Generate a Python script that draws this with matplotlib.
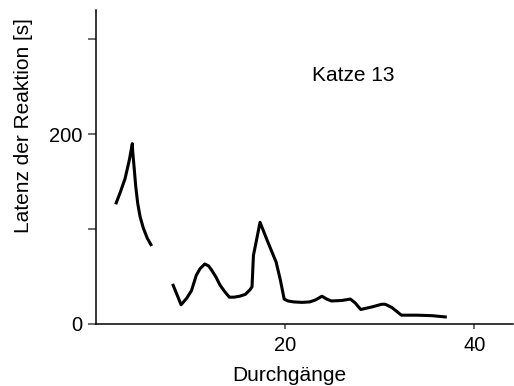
import matplotlib
matplotlib.use("Agg")
import matplotlib.pyplot as plt

plt.rcParams['font.family'] = ['Liberation Sans', 'DejaVu Sans']

# Durchgänge / Latenz, two separate drawn segments
trials_a = [2.08, 2.54, 3.07, 3.53, 3.84, 3.87, 4.02, 4.2, 4.41, 4.66, 5.0, 5.43, 5.89]
latency_a = [126, 138, 153, 173, 190, 183, 166, 145, 127, 113, 101, 90, 82]

trials_b = [8.1, 9.0, 9.6, 10.1, 10.6, 11.0, 11.5, 11.9, 12.2, 12.7, 13.1, 13.6, 14.1,
            14.6, 15.2, 15.8, 16.3, 16.5, 16.65, 17.35, 18.1, 19.05, 19.5, 19.9,
            20.3, 20.9, 21.8, 22.6, 23.2, 23.9, 24.4, 24.9, 26.0, 26.9, 27.4,
            28.0, 29.3, 30.2, 30.6, 31.3, 32.3, 33.9, 35.5, 37.1]
latency_b = [42, 20, 27, 35, 51, 58, 63, 61, 57, 49, 41, 34, 28,
             28, 29, 31, 36, 39, 72, 107, 88, 65, 46, 26,
             24, 23, 22.5, 23, 25, 29, 26, 24, 24.5, 26, 22,
             15, 18, 20.5, 20.5, 17, 9, 9, 8.5, 7]

yticks = [0, 100, 200, 300]
ytick_labels = ['0', '', '200', '']
xticks = [20, 40]

fig = plt.figure(figsize=(5.14, 3.86), dpi=100)
ax = fig.add_axes([0.1868, 0.1614, 0.8112, 0.8126])

for xs, ys in [(trials_a, latency_a), (trials_b, latency_b)]:
    ax.plot(xs, ys, color='black', linewidth=2.2, solid_joinstyle='round',
            solid_capstyle='butt')

ax.set_xlim(0, 44.1)
ax.set_ylim(0, 331)

ax.spines['top'].set_visible(False)
ax.spines['right'].set_visible(False)
ax.spines['left'].set_linewidth(1.1)
ax.spines['bottom'].set_linewidth(1.1)

ax.set_yticks(yticks)
ax.set_yticklabels(ytick_labels)
ax.set_xticks(xticks)
ax.set_xticklabels([str(t) for t in xticks])
ax.tick_params(axis='y', length=6, width=1.1, color='#444444', pad=4, labelsize=14.5)
ax.tick_params(axis='x', length=3.8, width=1.1, color='#444444', pad=5, labelsize=14.5)

ax.set_xlabel('Durchgänge', fontsize=15)
ax.xaxis.set_label_coords(0.463, -0.135)
ax.set_ylabel('Latenz der Reaktion [s]', fontsize=15)
ax.yaxis.set_label_coords(-0.152, 0.633)

ax.text(27.2, 262, 'Katze 13', fontsize=15, ha='center', va='center')

fig.savefig('out.png', dpi=100)
